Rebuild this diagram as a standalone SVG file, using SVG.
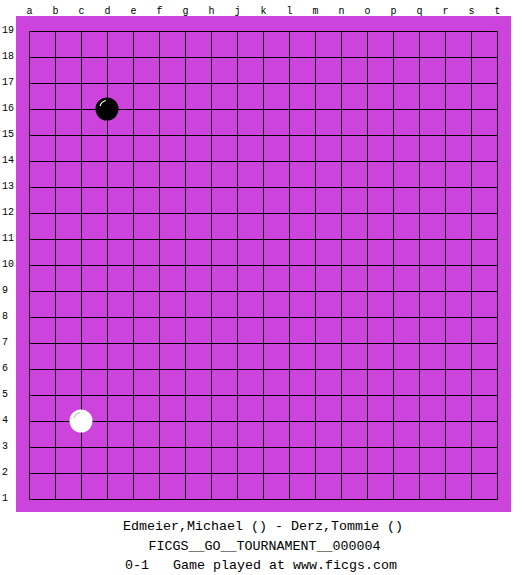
<svg xmlns="http://www.w3.org/2000/svg" width="525" height="575" viewBox="0 0 525 575">
<style>
.lbl{font-family:"Liberation Mono","DejaVu Sans Mono",monospace;font-size:10px;fill:#000}
.cap{font-family:"Liberation Mono","DejaVu Sans Mono",monospace;font-size:13.33px;fill:#000;text-anchor:middle}
.grid line{stroke:#000;stroke-width:1}
</style>
<rect width="525" height="575" fill="#fff"/>
<g id="board">
<rect x="16" y="16" width="495" height="496" fill="#CC44DC"/>
<g class="grid">
<line x1="29.5" y1="31.5" x2="29.5" y2="499.5"/><line x1="55.5" y1="31.5" x2="55.5" y2="499.5"/><line x1="81.5" y1="31.5" x2="81.5" y2="499.5"/><line x1="107.5" y1="31.5" x2="107.5" y2="499.5"/><line x1="133.5" y1="31.5" x2="133.5" y2="499.5"/><line x1="159.5" y1="31.5" x2="159.5" y2="499.5"/><line x1="185.5" y1="31.5" x2="185.5" y2="499.5"/><line x1="211.5" y1="31.5" x2="211.5" y2="499.5"/><line x1="237.5" y1="31.5" x2="237.5" y2="499.5"/><line x1="263.5" y1="31.5" x2="263.5" y2="499.5"/><line x1="289.5" y1="31.5" x2="289.5" y2="499.5"/><line x1="315.5" y1="31.5" x2="315.5" y2="499.5"/><line x1="341.5" y1="31.5" x2="341.5" y2="499.5"/><line x1="367.5" y1="31.5" x2="367.5" y2="499.5"/><line x1="393.5" y1="31.5" x2="393.5" y2="499.5"/><line x1="419.5" y1="31.5" x2="419.5" y2="499.5"/><line x1="445.5" y1="31.5" x2="445.5" y2="499.5"/><line x1="471.5" y1="31.5" x2="471.5" y2="499.5"/><line x1="497.5" y1="31.5" x2="497.5" y2="499.5"/>
<line x1="29.5" y1="31.5" x2="497.5" y2="31.5"/><line x1="29.5" y1="57.5" x2="497.5" y2="57.5"/><line x1="29.5" y1="83.5" x2="497.5" y2="83.5"/><line x1="29.5" y1="109.5" x2="497.5" y2="109.5"/><line x1="29.5" y1="135.5" x2="497.5" y2="135.5"/><line x1="29.5" y1="161.5" x2="497.5" y2="161.5"/><line x1="29.5" y1="187.5" x2="497.5" y2="187.5"/><line x1="29.5" y1="213.5" x2="497.5" y2="213.5"/><line x1="29.5" y1="239.5" x2="497.5" y2="239.5"/><line x1="29.5" y1="265.5" x2="497.5" y2="265.5"/><line x1="29.5" y1="291.5" x2="497.5" y2="291.5"/><line x1="29.5" y1="317.5" x2="497.5" y2="317.5"/><line x1="29.5" y1="343.5" x2="497.5" y2="343.5"/><line x1="29.5" y1="369.5" x2="497.5" y2="369.5"/><line x1="29.5" y1="395.5" x2="497.5" y2="395.5"/><line x1="29.5" y1="421.5" x2="497.5" y2="421.5"/><line x1="29.5" y1="447.5" x2="497.5" y2="447.5"/><line x1="29.5" y1="473.5" x2="497.5" y2="473.5"/><line x1="29.5" y1="499.5" x2="497.5" y2="499.5"/>
</g>
</g>
<g id="col-labels" class="lbl" text-anchor="middle">
<text x="29.5" y="13.5">a</text><text x="55.5" y="13.5">b</text><text x="81.5" y="13.5">c</text><text x="107.5" y="13.5">d</text><text x="133.5" y="13.5">e</text><text x="159.5" y="13.5">f</text><text x="185.5" y="13.5">g</text><text x="211.5" y="13.5">h</text><text x="237.5" y="13.5">j</text><text x="263.5" y="13.5">k</text><text x="289.5" y="13.5">l</text><text x="315.5" y="13.5">m</text><text x="341.5" y="13.5">n</text><text x="367.5" y="13.5">o</text><text x="393.5" y="13.5">p</text><text x="419.5" y="13.5">q</text><text x="445.5" y="13.5">r</text><text x="471.5" y="13.5">s</text><text x="497.5" y="13.5">t</text>
</g>
<g id="row-labels" class="lbl">
<text x="2" y="33">19</text><text x="2" y="59">18</text><text x="2" y="85">17</text><text x="2" y="111">16</text><text x="2" y="137">15</text><text x="2" y="163">14</text><text x="2" y="189">13</text><text x="2" y="215">12</text><text x="2" y="241">11</text><text x="2" y="267">10</text><text x="2" y="293">9</text><text x="2" y="319">8</text><text x="2" y="345">7</text><text x="2" y="371">6</text><text x="2" y="397">5</text><text x="2" y="423">4</text><text x="2" y="449">3</text><text x="2" y="475">2</text><text x="2" y="501">1</text>
</g>
<g id="stone-d16">
<circle cx="107" cy="109" r="11.5" fill="#000"/>
<path d="M100,106 A8,8 0 0 1 106,100.5" fill="none" stroke="#fff" stroke-width="1.2"/>
</g>
<g id="stone-c4">
<circle cx="81" cy="421" r="11.5" fill="#fff"/>
<path d="M74,418 A8,8 0 0 1 80,412.5" fill="none" stroke="#bbb" stroke-width="1.2"/>
</g>
<g id="caption">
<text class="cap" x="263" y="530">Edmeier,Michael () - Derz,Tommie ()</text>
<text class="cap" x="264.5" y="549.5">FICGS__GO__TOURNAMENT__000004</text>
<text class="cap" x="261" y="569" xml:space="preserve">0-1   Game played at www.ficgs.com</text>
</g>
</svg>
